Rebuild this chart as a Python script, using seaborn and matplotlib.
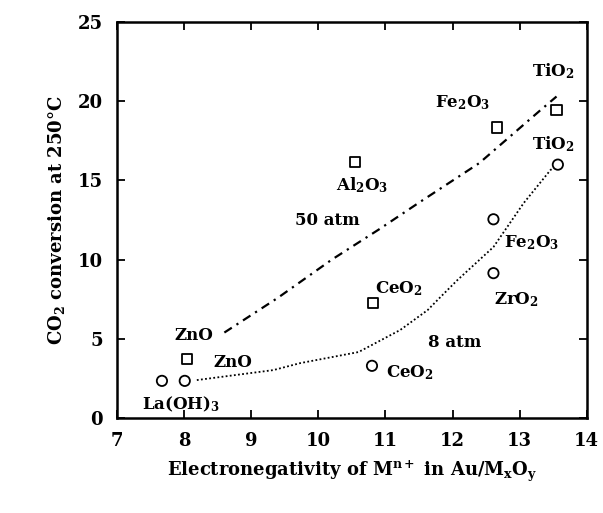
import pandas as pd
import matplotlib
matplotlib.use("Agg")
import matplotlib.pyplot as plt
import seaborn as sns

# measured points (electronegativity, CO2 conversion %)
sq_name = ["ZnO", "CeO2", "Al2O3", "Fe2O3", "TiO2"]
sq_x = [8.04, 10.82, 10.55, 12.66, 13.55]
sq_y = [3.75, 7.25, 16.15, 18.35, 19.45]

ci_name = ["La(OH)3", "ZnO", "CeO2", "Fe2O3", "ZrO2", "TiO2"]
ci_x = [7.67, 8.01, 10.80, 12.61, 12.61, 13.57]
ci_y = [2.35, 2.35, 3.30, 12.55, 9.15, 16.00]

# hand-drawn trend curves
hi_x = [8.60, 9.40, 10.20, 10.90, 11.50, 12.40, 13.30, 13.55]
hi_y = [5.40, 7.60, 10.00, 11.90, 13.60, 16.10, 19.40, 20.30]
lo_x = [8.19, 9.33, 9.73, 10.60, 11.22, 11.63, 11.82, 12.07, 12.61, 13.06, 13.46, 13.57]
lo_y = [2.40, 3.03, 3.47, 4.17, 5.56, 6.82, 7.64, 8.70, 10.80, 13.57, 15.66, 16.00]

sns.set_style("ticks")
plt.rcParams["font.family"] = ["DejaVu Serif"]
plt.rcParams["font.weight"] = "bold"
plt.rcParams["axes.labelweight"] = "bold"
plt.rcParams["mathtext.fontset"] = "dejavuserif"
plt.rcParams["mathtext.default"] = "bf"
for k in ["text.color", "axes.labelcolor", "xtick.color", "ytick.color", "axes.edgecolor"]:
    plt.rcParams[k] = "black"

pts = pd.concat([
    pd.DataFrame({"x": sq_x, "y": sq_y, "p": "50 atm"}),
    pd.DataFrame({"x": ci_x, "y": ci_y, "p": "8 atm"}),
])

fig = plt.figure(figsize=(6.03, 5.13), dpi=100)
ax = fig.add_axes([0.194, 0.185, 0.779, 0.772])

sns.lineplot(x=hi_x, y=hi_y, sort=False, ax=ax, color="black", lw=1.6,
             linestyle=(0, (4, 2.5, 1, 2.5)))
sns.lineplot(x=lo_x, y=lo_y, sort=False, ax=ax, color="black", lw=1.3,
             linestyle=(0, (1, 1.3)))
sns.scatterplot(data=pts, x="x", y="y", style="p",
                markers={"50 atm": "s", "8 atm": "o"},
                s=55, facecolor="white", edgecolor="black", linewidth=1.3,
                legend=False, ax=ax, zorder=3)

kw = dict(fontsize=12, ha="center", va="center", color="black")
ax.text(13.50, 21.9, "TiO$_2$", **kw)
ax.text(12.15, 19.9, "Fe$_2$O$_3$", **kw)
ax.text(13.50, 17.3, "TiO$_2$", **kw)
ax.text(10.65, 14.7, "Al$_2$O$_3$", **kw)
ax.text(10.14, 12.5, "50 atm", **kw)
ax.text(11.20, 8.2, "CeO$_2$", **kw)
ax.text(13.18, 11.1, "Fe$_2$O$_3$", **kw)
ax.text(12.95, 7.5, "ZrO$_2$", **kw)
ax.text(12.03, 4.8, "8 atm", **kw)
ax.text(11.37, 2.9, "CeO$_2$", **kw)
ax.text(8.14, 5.2, "ZnO", **kw)
ax.text(8.72, 3.5, "ZnO", **kw)
ax.text(7.96, 0.85, "La(OH)$_3$", **kw)

ax.set_xlim(7, 14)
ax.set_ylim(0, 25)
ax.set_xticks(range(7, 15))
ax.set_yticks(range(0, 26, 5))
ax.tick_params(direction="in", length=6, width=1.3, top=True, right=True,
               labelsize=13, pad=10, colors="black")
for s in ax.spines.values():
    s.set_linewidth(1.8)
    s.set_color("black")
ax.set_xlabel("Electronegativity of M$^{n+}$ in Au/M$_x$O$_y$", fontsize=13, labelpad=6)
ax.set_ylabel("CO$_2$ conversion at 250°C", fontsize=13, labelpad=8)

fig.savefig("out.png", dpi=100)
